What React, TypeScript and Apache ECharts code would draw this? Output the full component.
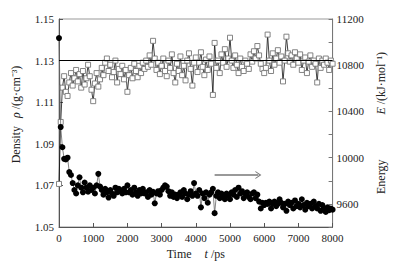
import React, { useEffect, useRef } from "react";
import * as echarts from "echarts";

const TIME_STEP = 50;

const density = [
  1.0707, 1.1005, 1.117, 1.1225, 1.115, 1.113, 1.1195, 1.124, 1.118, 1.1215,
  1.1255, 1.12, 1.1235, 1.117, 1.125, 1.1185, 1.1215, 1.128, 1.1225, 1.116,
  1.1105, 1.119, 1.124, 1.1175, 1.121, 1.1265, 1.123, 1.129, 1.131, 1.125,
  1.128, 1.122, 1.1245, 1.13, 1.1195, 1.126, 1.1235, 1.1275, 1.121, 1.1255,
  1.115, 1.123, 1.1265, 1.1215, 1.1285, 1.125, 1.122, 1.1275, 1.124, 1.129,
  1.126, 1.13, 1.127, 1.1325, 1.128, 1.1395, 1.131, 1.1255, 1.129, 1.1235,
  1.1275, 1.131, 1.125, 1.1225, 1.13, 1.1265, 1.133, 1.124, 1.1195, 1.1285,
  1.125, 1.132, 1.123, 1.1275, 1.1205, 1.13, 1.1335, 1.126, 1.118, 1.129,
  1.1315, 1.1245, 1.129, 1.134, 1.127, 1.123, 1.1305, 1.1255, 1.132, 1.1285,
  1.1135, 1.1385, 1.1265, 1.13, 1.124, 1.133, 1.129, 1.1355, 1.127, 1.131,
  1.141, 1.13, 1.1265, 1.1325, 1.128, 1.124, 1.131, 1.127, 1.125, 1.13,
  1.1285, 1.126, 1.133, 1.1295, 1.1345, 1.131, 1.137, 1.1325, 1.1285, 1.126,
  1.124, 1.1265, 1.1425, 1.13, 1.125, 1.1335, 1.128, 1.131, 1.135, 1.129,
  1.132, 1.12, 1.13, 1.1415, 1.1335, 1.1295, 1.1325, 1.128, 1.134, 1.131,
  1.129, 1.133, 1.1255, 1.13, 1.1315, 1.124, 1.1295, 1.1325, 1.127, 1.13,
  1.1285, 1.1195, 1.131, 1.1265, 1.13, 1.128, 1.131, 1.129, 1.1255, 1.13,
  1.1285,
];

const energy = [
  11035, 10265, 10090, 9990, 9985, 10000, 9875, 9850, 9780, 9720,
  9690, 9760, 9830, 9740, 9700, 9785, 9740, 9705, 9760, 9720,
  9740, 9690, 9760, 9860, 9750, 9720, 9680, 9730, 9700, 9655,
  9720, 9690, 9670, 9740, 9700, 9730, 9710, 9690, 9730, 9700,
  9760, 9700, 9720, 9680, 9740, 9700, 9670, 9720, 9690, 9730,
  9690, 9700, 9660, 9720, 9680, 9705, 9605, 9690, 9710, 9680,
  9720, 9740, 9760, 9750, 9710, 9670, 9700, 9660, 9680, 9650,
  9680, 9700, 9660, 9720, 9690, 9640, 9680, 9710, 9670, 9780,
  9690, 9670, 9720, 9570, 9690, 9650, 9700, 9610, 9680, 9700,
  9730, 9520, 9670, 9700, 9650, 9690, 9660, 9640, 9690, 9670,
  9640, 9700, 9680, 9720, 9660, 9740, 9690, 9710, 9650, 9690,
  9700, 9660, 9640, 9690, 9700, 9650, 9680, 9620, 9560, 9610,
  9590, 9610, 9600, 9620, 9560, 9600, 9620, 9580, 9600, 9640,
  9610, 9570, 9600, 9540, 9620, 9590, 9610, 9560, 9630, 9580,
  9600, 9570, 9640, 9590, 9550, 9610, 9580, 9600, 9560, 9620,
  9580, 9560, 9600, 9540, 9590, 9560, 9530, 9570, 9545, 9560,
  9550,
];

const xTicks = [0, 1000, 2000, 3000, 4000, 5000, 6000, 7000, 8000];
const densityRef = 1.128;
const arrowStart = [4550, 9850];
const arrowEnd = [5830, 9850];

const FONT = "Liberation Serif";

export default function App() {
  const ref = useRef<HTMLDivElement>(null);
  useEffect(() => {
    if (!ref.current) return;
    const chart = echarts.init(ref.current, null, { renderer: "svg" });
    const dens = density.map((v, i) => [i * TIME_STEP, v]);
    const ener = energy.map((v, i) => [i * TIME_STEP, v]);
    const nameRich = {
      t: { fontFamily: FONT, fontSize: 12, color: "#222" },
      i: { fontFamily: FONT, fontSize: 12, color: "#222", fontStyle: "italic" },
      sp: { width: 8 },
      sp0: { width: 17 },
      spE: { width: 45 },
      spT: { width: 13 },
    };
    const labelStyle = { fontFamily: FONT, fontSize: 11, color: "#222" };
    chart.setOption({
      animation: false,
      grid: {
        left: 59,
        right: 60,
        top: 19,
        bottom: 42,
        show: true,
        borderColor: "#999",
        borderWidth: 1,
      },
      xAxis: {
        type: "value",
        min: xTicks[0],
        max: xTicks[xTicks.length - 1],
        interval: 1000,
        axisLine: { show: true, lineStyle: { color: "#555" } },
        axisTick: { show: true, inside: true, length: 4, lineStyle: { color: "#555" } },
        axisLabel: { ...labelStyle, margin: 5, formatter: (v: number) => String(v) },
        splitLine: { show: false },
        name: "{t|Time}{spT| }{i|t}{t| /ps}",
        nameLocation: "middle",
        nameGap: 21,
        nameTextStyle: { rich: nameRich },
      },
      yAxis: [
        {
          type: "value",
          position: "left",
          min: 1.05,
          max: 1.15,
          interval: 0.02,
          axisLine: { show: true, lineStyle: { color: "#555" } },
          axisTick: { show: true, inside: true, length: 4, lineStyle: { color: "#555" } },
          axisLabel: { ...labelStyle, margin: 5, formatter: (v: number) => v.toFixed(2) },
          splitLine: { show: false },
          name: "{sp0| }{t|Density}{sp| }{i|ρ}{t| /(g·cm⁻³)}",
          nameLocation: "middle",
          nameRotate: 90,
          nameGap: 37,
          nameTextStyle: { rich: nameRich },
        },
        {
          type: "value",
          position: "right",
          min: 9400,
          max: 11200,
          interval: 200,
          axisLine: { show: true, lineStyle: { color: "#777" } },
          axisTick: { show: true, inside: true, length: 4, lineStyle: { color: "#777" } },
          axisLabel: {
            ...labelStyle,
            margin: 4,
            formatter: (v: number) => (Math.round(v) % 400 === 0 ? String(v) : ""),
          },
          splitLine: { show: false },
          name: "{t|Energy}{spE| }{i|E}{t| /(kJ·mol⁻¹)}",
          nameLocation: "middle",
          nameRotate: 90,
          nameGap: 37,
          nameTextStyle: { rich: nameRich },
        },
      ],
      series: [
        {
          name: "Density",
          type: "line",
          yAxisIndex: 0,
          data: dens,
          symbol: "rect",
          symbolSize: 5,
          showAllSymbol: true,
          itemStyle: { color: "#fff", borderColor: "#777", borderWidth: 0.9 },
          lineStyle: { color: "#111", width: 0.8 },
          z: 2,
          markLine: {
            silent: true,
            symbol: "none",
            label: { show: false },
            lineStyle: { color: "#000", width: 1, type: "solid" },
            data: [{ yAxis: densityRef }],
          },
        },
        {
          name: "Energy",
          type: "line",
          yAxisIndex: 1,
          data: ener,
          symbol: "circle",
          symbolSize: 6,
          showAllSymbol: true,
          itemStyle: { color: "#000" },
          lineStyle: { color: "#666", width: 0.8 },
          z: 3,
          markLine: {
            silent: true,
            symbol: ["none", "path://M0,10 L5,0 L10,10 L8.6,10 L5,3 L1.4,10 Z"],
            symbolSize: [8, 6],
            label: { show: false },
            lineStyle: { color: "#777", width: 1.6, type: "solid" },
            data: [[{ coord: arrowStart }, { coord: arrowEnd }]],
          },
        },
      ],
    });
    return () => chart.dispose();
  }, []);
  return (
    <div
      ref={ref}
      style={{ position: "fixed", left: 0, top: 0, width: 395, height: 269, background: "#fff" }}
    />
  );
}
